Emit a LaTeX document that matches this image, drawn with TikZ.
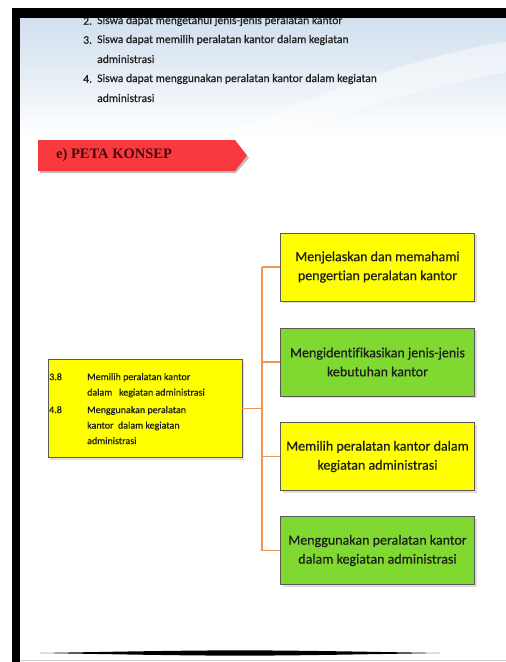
\documentclass[tikz,border=0pt]{standalone}
\usepackage{fontspec}
\setmainfont{Carlito}[Ligatures=NoCommon, FakeBold=0.5]
\newfontfamily\bannerfont{Liberation Serif}
\usetikzlibrary{shadows}
\definecolor{boxyellow}{RGB}{255,255,0}
\definecolor{boxgreen}{RGB}{128,217,48}
\definecolor{linkorange}{RGB}{240,150,85}
\definecolor{bannerred}{RGB}{248,58,62}
\definecolor{bannertext}{RGB}{70,10,10}
\definecolor{topblue}{RGB}{210,224,238}
\definecolor{txtdark}{RGB}{30,30,30}
\tikzset{
  mapbox/.style={draw=black!65, line width=0.6pt, minimum width=194pt, minimum height=68pt,
    inner sep=2pt, align=center, font=\fontsize{14}{19}\selectfont, text=txtdark,
    drop shadow={shadow xshift=2pt, shadow yshift=-2pt, opacity=0.25}},
  ybox/.style={mapbox, fill=boxyellow},
  gbox/.style={mapbox, fill=boxgreen},
  link/.style={draw=linkorange, line width=1.3pt},
  listtxt/.style={anchor=west, inner sep=0pt, font=\fontsize{11.6}{14}\selectfont, text=txtdark},
}
\begin{document}
\begin{tikzpicture}[x=1pt,y=-1pt]
\useasboundingbox (0,0) rectangle (506,662);
\fill[white] (0,0) rectangle (506,662);
% top background
\shade[top color=topblue, bottom color=white, middle color=white!45!topblue] (20,18) rectangle (506,136);
\fill[white, opacity=0.45] (220,136) .. controls (330,90) and (420,55) .. (506,42) -- (506,72) .. controls (420,88) and (340,112) .. (290,136) -- cycle;
% list text
\node[listtxt] (n2) at (83,21) {2.};
\node[listtxt] (t2) at (97,21) {Siswa dapat mengetahui jenis-jenis peralatan kantor};
\node[listtxt] (n3) at (83,40) {3.};
\node[listtxt] (t3) at (97,40) {Siswa dapat memilih peralatan kantor dalam kegiatan};
\node[listtxt] (t3b) at (97,59) {administrasi};
\node[listtxt] (n4) at (83,79) {4.};
\node[listtxt] (t4) at (97,79) {Siswa dapat menggunakan peralatan kantor dalam kegiatan};
\node[listtxt] (t4b) at (97,98) {administrasi};
% frame bars
\fill[black] (12,8) rectangle (506,18);
\fill[black] (12,8) rectangle (20,662);
% banner
\fill[black!25] (40,173) -- (236,173) -- (249,158) -- (237,143) -- (40,143) -- cycle;
\fill[bannerred] (38,140) -- (235,140) -- (247,155.5) -- (235,171) -- (38,171) -- cycle;
\node[anchor=west, inner sep=0pt, text=bannertext, font=\bannerfont\bfseries\fontsize{14.5}{17}\selectfont] (ban) at (56,155) {e) PETA KONSEP};
% left box
\node[mapbox, fill=boxyellow, minimum width=194pt, minimum height=98pt] (L) at (145,408.5) {};
\node[anchor=west, inner sep=0pt, text=txtdark, font=\fontsize{10}{15.5}\selectfont, align=left] (Lt) at (49,409)
 {\begin{tabular}{@{}p{38pt}@{}l@{}}
  3.8 & Memilih peralatan kantor\\
      & dalam\ \ \ kegiatan administrasi\\[2pt]
  4.8 & Menggunakan peralatan\\
      & kantor\ \ dalam kegiatan\\
      & administrasi
  \end{tabular}};
% right boxes
\node[ybox] (R1) at (377.5,267) {Menjelaskan dan memahami\\pengertian peralatan kantor};
\node[gbox] (R2) at (377.5,362) {Mengidentifikasikan jenis-jenis\\kebutuhan kantor};
\node[ybox] (R3) at (377.5,456.5) {Memilih peralatan kantor dalam\\kegiatan administrasi};
\node[gbox] (R4) at (377.5,550.5) {Menggunakan peralatan kantor\\dalam kegiatan administrasi};
% connectors
\coordinate (J) at (262,408.5);
\coordinate (Jt) at (262,267);
\coordinate (Jb) at (262,550.5);
\draw[link] (L.east) -- (J);
\draw[link] (Jt) -- (Jb);
\draw[link] (Jt) -- (R1.west);
\draw[link] (J |- R2.west) -- (R2.west);
\draw[link] (J |- R3.west) -- (R3.west);
\draw[link] (Jb) -- (R4.west);
% bottom rule
\fill[black] (40,653) .. controls (240,649.5) .. (440,653) .. controls (240,656.5) .. (40,653) -- cycle;
\draw[black!20, line width=1pt] (20,660.5) -- (506,660.5);
\end{tikzpicture}
\end{document}
